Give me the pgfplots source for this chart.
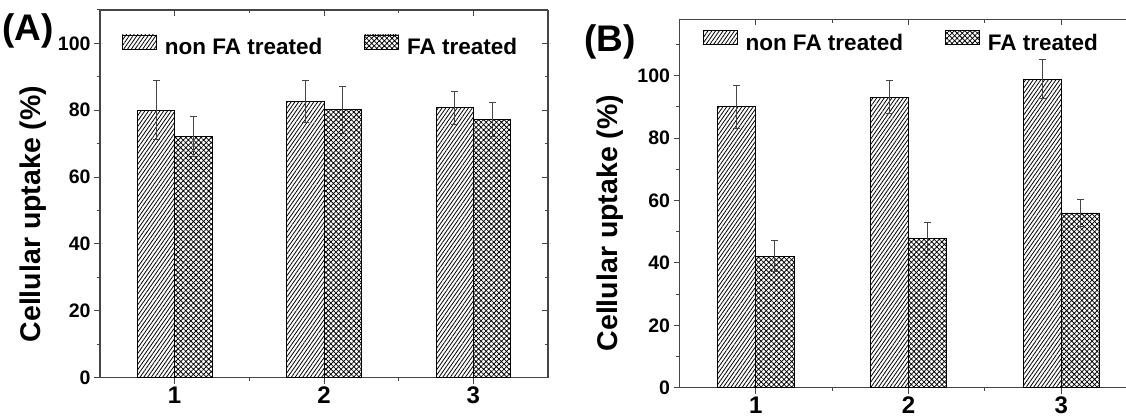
\documentclass[border=0pt]{standalone}
\usepackage{fontspec}
\setmainfont{Liberation Sans}
\usepackage{pgfplots}
\usepackage{pgfplotstable}
\pgfplotsset{compat=1.18}
\usetikzlibrary{patterns.meta}
\definecolor{axcol}{HTML}{454545}
\definecolor{errcol}{HTML}{454545}
\newcommand\myfs[1]{\fontsize{#1}{#1}\selectfont\bfseries}

\pgfplotstableread{
x y e
1 80.0 8.8
2 82.6 6.3
3 80.7 4.9
}\Anon
\pgfplotstableread{
x y e
1 72.1 6.0
2 80.1 6.9
3 77.2 5.0
}\Afa
\pgfplotstableread{
x y e
1 90.0 6.8
2 93.1 5.2
3 98.9 6.2
}\Bnon
\pgfplotstableread{
x y e
1 42.2 4.9
2 47.9 5.0
3 56.0 4.4
}\Bfa

\pgfplotsset{
 base/.style={
   scale only axis,
   xmin=0.5, xmax=3.5,
   xtick={1,2,3}, minor xtick={1.5,2.5},
   ytick={0,20,...,100}, minor ytick={10,30,...,110},
   axis line style={draw=axcol, line width=1.2pt},
   tick style={draw=axcol, line width=1pt},
   major tick length=6pt, minor tick length=3.5pt,
   /pgf/number format/assume math mode=true,
 },
 main/.style={base,
   axis x line*=bottom, axis y line*=left, tick align=outside,
   xticklabel style={font=\myfs{24}},
   yticklabel style={font=\myfs{19.5}},
   ylabel={Cellular uptake (\%)},
   ylabel style={font=\myfs{28.5}, anchor=center},
   legend columns=2,
   legend style={draw=none, fill=none, font=\myfs{22.5}, inner sep=0pt,
     /tikz/every odd column/.append style={column sep=6pt},
     /tikz/every even column/.append style={column sep=40pt}},
 },
 over/.style={base, axis x line*=top, axis y line*=right, tick align=inside,
   xticklabels={}, yticklabels={}},
 barbase/.style={ybar, bar width=0.25, bar shift=0pt, draw=black, line width=0.9pt, fill=white},
 nonpat/.style={postaction={pattern={Lines[angle=55,distance=3.1pt,line width=0.8pt]}}},
 fapat/.style={postaction={pattern={Hatch[angle=45,distance=3.6pt,line width=0.75pt]}}},
 errs/.style={error bars/y dir=both, error bars/y explicit,
   error bars/error bar style={draw=errcol, line width=1pt},
   error bars/error mark options={draw=errcol, line width=1pt, mark size=3.5pt, rotate=90}},
 legbox/.style={legend image code/.code={\draw[draw=black, line width=0.9pt, fill=white, ##1] (0pt,-1.6pt) rectangle (34pt,12.4pt);}},
}

\begin{document}
\begin{tikzpicture}
\useasboundingbox (0pt,0pt) rectangle (1126pt,415pt);
% Panel A
\begin{axis}[main, at={(100pt,37.3pt)}, anchor=south west, width=448pt, height=367.7pt,
  ymin=0, ymax=110,
  ylabel style={at={(axis description cs:-0.1496,0.445)}},
  legend style={at={(rel axis cs:0.0484,0.901)}, anchor=west}]
\addplot[barbase, nonpat, errs, forget plot] table[x expr=\thisrow{x}-0.125, y=y, y error=e] {\Anon};
\addplot[barbase, fapat, errs, forget plot] table[x expr=\thisrow{x}+0.125, y=y, y error=e] {\Afa};
\addlegendimage{legbox, nonpat}
\addlegendentry{non FA treated}
\addlegendimage{legbox, fapat}
\addlegendentry{FA treated}
\end{axis}
\begin{axis}[over, at={(100pt,37.3pt)}, anchor=south west, width=448pt, height=367.7pt,
  ymin=0, ymax=110]
\end{axis}
% Panel B
\begin{axis}[main, at={(679.5pt,27.3pt)}, anchor=south west, width=458pt, height=368.2pt,
  ymin=0, ymax=118,
  ylabel style={at={(axis description cs:-0.151,0.447)}},
  legend style={at={(rel axis cs:0.050,0.939)}, anchor=west}]
\addplot[barbase, nonpat, errs, forget plot] table[x expr=\thisrow{x}-0.125, y=y, y error=e] {\Bnon};
\addplot[barbase, fapat, errs, forget plot] table[x expr=\thisrow{x}+0.125, y=y, y error=e] {\Bfa};
\addlegendimage{legbox, nonpat}
\addlegendentry{non FA treated}
\addlegendimage{legbox, fapat}
\addlegendentry{FA treated}
\end{axis}
\begin{axis}[over, at={(679.5pt,27.3pt)}, anchor=south west, width=458pt, height=368.2pt,
  ymin=0, ymax=118]
\end{axis}
\node[font=\myfs{37}, anchor=center] at (28pt,384pt) {(A)};
\node[font=\myfs{37}, anchor=center] at (610pt,373pt) {(B)};
\end{tikzpicture}
\end{document}
